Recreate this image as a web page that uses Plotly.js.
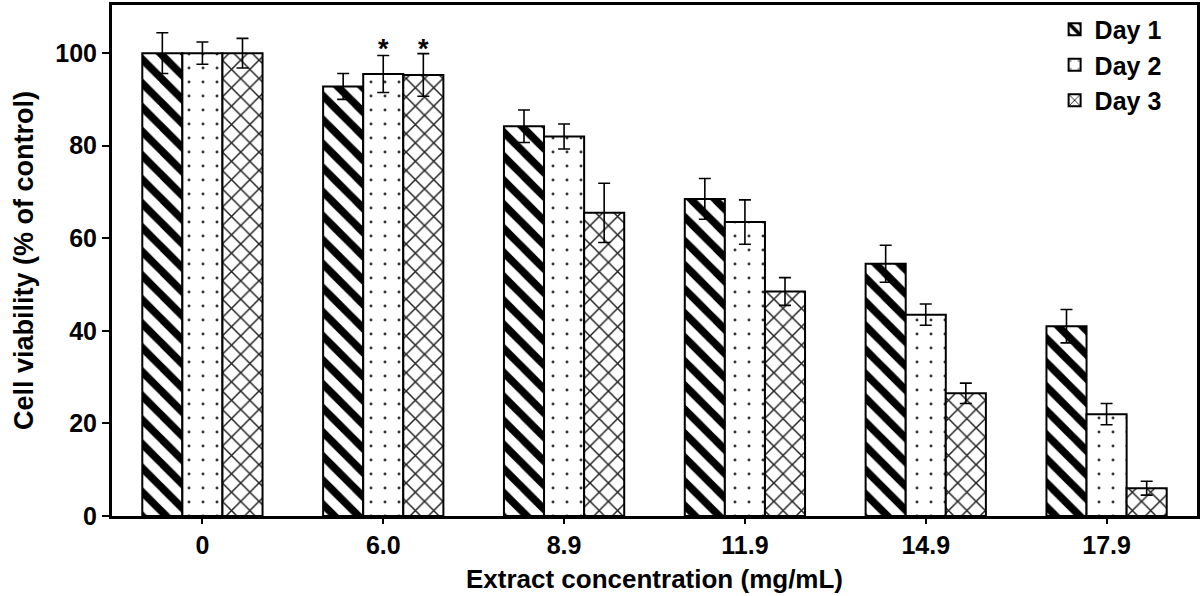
<!DOCTYPE html>
<html>
<head>
<meta charset="utf-8">
<script src="https://cdn.plot.ly/plotly-3.0.1.min.js"></script>
<style>html,body{margin:0;padding:0;background:#fff;}#chart{width:1203px;height:596px;}</style>
</head>
<body>
<div id="chart"></div>
<script>
const categories = ["0", "6.0", "8.9", "11.9", "14.9", "17.9"];
const seriesNames = ["Day 1", "Day 2", "Day 3"];
const day1 = [100, 92.8, 84.2, 68.5, 54.5, 41.0];
const day2 = [100, 95.5, 82.0, 63.5, 43.5, 22.0];
const day3 = [100, 95.3, 65.5, 48.5, 26.5, 6.0];
const day1Err = [4.4, 2.8, 3.5, 4.4, 4.0, 3.6];
const day2Err = [2.4, 4.0, 2.7, 4.8, 2.3, 2.3];
const day3Err = [3.2, 4.6, 6.4, 3.0, 2.2, 1.5];
const yTicks = [0, 20, 40, 60, 80, 100];
const starCategory = "6.0";
const starY = 100.8;

const values = [day1, day2, day3];
const errs = [day1Err, day2Err, day3Err];
const patterns = [
  {shape: "\\", size: 17, solidity: 0.45, fgcolor: "#000", bgcolor: "#fff"},
  {shape: ".", size: 14, solidity: 0.035, fgcolor: "#333", bgcolor: "#fff"},
  {shape: "x", size: 13, solidity: 0.22, fgcolor: "#222", bgcolor: "#fff"}
];

const traces = values.map((v, i) => ({
  type: "bar",
  name: seriesNames[i],
  x: categories,
  y: v,
  marker: {color: "#fff", pattern: patterns[i], line: {color: "#000", width: 2}},
  error_y: {type: "data", array: errs[i], visible: true, color: "#000", thickness: 1.6, width: 6}
}));

const fam = "Liberation Sans, Arial, sans-serif";
const bold = (s) => ({family: fam, size: s, color: "#000", weight: 700});
const starIdx = categories.indexOf(starCategory);

const layout = {
  width: 1203, height: 596,
  margin: {l: 112, r: 6, t: 5, b: 80},
  paper_bgcolor: "#fff", plot_bgcolor: "#fff",
  barmode: "group", bargap: 0.335, bargroupgap: 0,
  font: {family: fam, color: "#000"},
  showlegend: true,
  legend: {
    x: 0.972, xanchor: "right", y: 0.997, yanchor: "top",
    bgcolor: "rgba(0,0,0,0)",
    font: bold(25),
    itemwidth: 30, tracegroupgap: 0
  },
  xaxis: {
    type: "category",
    range: [-0.5, categories.length - 0.5],
    showline: true, linecolor: "#000", linewidth: 3, mirror: true,
    ticks: "outside", ticklen: 5, tickwidth: 2, tickcolor: "#000",
    tickfont: bold(25),
    showgrid: false, zeroline: false,
    title: {text: "Extract concentration (mg/mL)", font: bold(26), standoff: 12}
  },
  yaxis: {
    range: [0, 110.4],
    tickvals: yTicks, ticktext: yTicks.map(String),
    showline: true, linecolor: "#000", linewidth: 3, mirror: true,
    ticks: "outside", ticklen: 7, tickwidth: 2, tickcolor: "#000",
    tickfont: bold(25),
    showgrid: false, zeroline: false,
    title: {text: "Cell viability (% of control)", font: bold(27), standoff: 14}
  },
  annotations: [
    {x: starIdx, y: starY, text: "*", showarrow: false, xshift: 0, font: bold(27)},
    {x: starIdx, y: starY, text: "*", showarrow: false, xshift: 40, font: bold(27)}
  ]
};

Plotly.newPlot("chart", traces, layout, {displayModeBar: false, staticPlot: true});
</script>
</body>
</html>
